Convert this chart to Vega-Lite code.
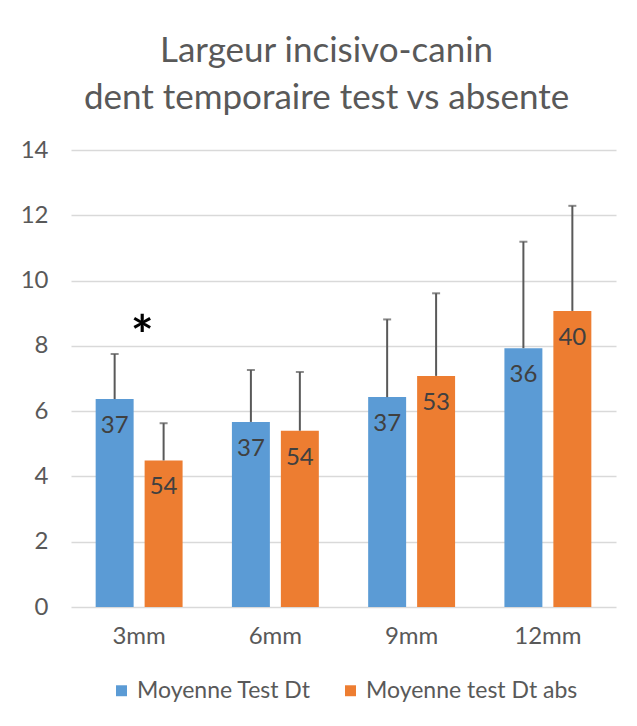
{
  "$schema": "https://vega.github.io/schema/vega-lite/v6.json",
  "autosize": {"type": "none"},
  "width": 545,
  "height": 457,
  "padding": {"left": 71, "top": 150, "right": 21, "bottom": 119},
  "background": "white",
  "title": {
    "text": ["Largeur incisivo-canin", "dent temporaire test vs absente"],
    "font": "Lato",
    "fontSize": 35,
    "fontWeight": "normal",
    "color": "#595959",
    "lineHeight": 47,
    "anchor": "middle",
    "dx": -17,
    "offset": 22
  },
  "datasets": {
    "bars": [
      {"category": "3mm", "series": "Moyenne Test Dt", "mean": 6.37, "upper": 7.75, "n": "37"},
      {"category": "3mm", "series": "Moyenne test Dt abs", "mean": 4.49, "upper": 5.63, "n": "54"},
      {"category": "6mm", "series": "Moyenne Test Dt", "mean": 5.67, "upper": 7.26, "n": "37"},
      {"category": "6mm", "series": "Moyenne test Dt abs", "mean": 5.40, "upper": 7.20, "n": "54"},
      {"category": "9mm", "series": "Moyenne Test Dt", "mean": 6.43, "upper": 8.81, "n": "37"},
      {"category": "9mm", "series": "Moyenne test Dt abs", "mean": 7.08, "upper": 9.61, "n": "53"},
      {"category": "12mm", "series": "Moyenne Test Dt", "mean": 7.93, "upper": 11.19, "n": "36"},
      {"category": "12mm", "series": "Moyenne test Dt abs", "mean": 9.07, "upper": 12.29, "n": "40"}
    ],
    "marks": [
      {"category": "3mm", "value": 8.25, "label": "*"}
    ]
  },
  "data": {"name": "bars"},
  "encoding": {
    "x": {
      "field": "category",
      "type": "nominal",
      "sort": ["3mm", "6mm", "9mm", "12mm"],
      "scale": {"paddingInner": 0.362, "paddingOuter": 0.181},
      "axis": {
        "title": null,
        "labelAngle": 0,
        "domain": false,
        "ticks": false,
        "labelFont": "Lato",
        "labelFontSize": 24,
        "labelColor": "#595959",
        "labelPadding": 17
      }
    }
  },
  "layer": [
    {
      "mark": {"type": "bar"},
      "encoding": {
        "xOffset": {
          "field": "series",
          "type": "nominal",
          "sort": ["Moyenne Test Dt", "Moyenne test Dt abs"],
          "scale": {"paddingInner": 0.2245, "paddingOuter": 0}
        },
        "y": {
          "field": "mean",
          "type": "quantitative",
          "scale": {"domain": [0, 14], "nice": false},
          "axis": {
            "title": null,
            "values": [0, 2, 4, 6, 8, 10, 12, 14],
            "domain": false,
            "ticks": false,
            "grid": true,
            "gridColor": "#d9d9d9",
            "gridWidth": 1.5,
            "labelFont": "Lato",
            "labelFontSize": 24,
            "labelColor": "#595959",
            "labelPadding": 23
          }
        },
        "color": {
          "field": "series",
          "type": "nominal",
          "scale": {
            "domain": ["Moyenne Test Dt", "Moyenne test Dt abs"],
            "range": ["#5B9BD5", "#ED7D31"]
          },
          "legend": {
            "title": null,
            "orient": "bottom",
            "direction": "horizontal",
            "symbolType": "square",
            "symbolSize": 120,
            "symbolStrokeWidth": 0,
            "labelOffset": 4,
            "labelFont": "Lato",
            "labelFontSize": 23,
            "labelColor": "#595959",
            "labelLimit": 400,
            "columnPadding": 28,
            "offset": 31
          }
        }
      }
    },
    {
      "mark": {"type": "rule", "color": "#595959", "strokeWidth": 2},
      "encoding": {
        "xOffset": {"field": "series", "type": "nominal", "sort": ["Moyenne Test Dt", "Moyenne test Dt abs"]},
        "y": {"field": "mean", "type": "quantitative"},
        "y2": {"field": "upper"}
      }
    },
    {
      "mark": {"type": "tick", "color": "#595959", "thickness": 2, "size": 8, "orient": "horizontal"},
      "encoding": {
        "xOffset": {"field": "series", "type": "nominal", "sort": ["Moyenne Test Dt", "Moyenne test Dt abs"]},
        "y": {"field": "upper", "type": "quantitative"}
      }
    },
    {
      "mark": {"type": "text", "font": "Lato", "fontSize": 24, "color": "#404040", "baseline": "middle", "dy": 27},
      "encoding": {
        "xOffset": {"field": "series", "type": "nominal", "sort": ["Moyenne Test Dt", "Moyenne test Dt abs"]},
        "y": {"field": "mean", "type": "quantitative"},
        "text": {"field": "n", "type": "nominal"}
      }
    },
    {
      "data": {"name": "marks"},
      "mark": {"type": "text", "font": "Lato", "fontSize": 54, "fontWeight": "bold", "color": "#000000", "baseline": "middle", "dx": 3},
      "encoding": {
        "y": {"field": "value", "type": "quantitative"},
        "text": {"field": "label", "type": "nominal"}
      }
    }
  ],
  "config": {
    "view": {"stroke": null},
    "legend": {"layout": {"bottom": {"anchor": "middle"}}}
  }
}
